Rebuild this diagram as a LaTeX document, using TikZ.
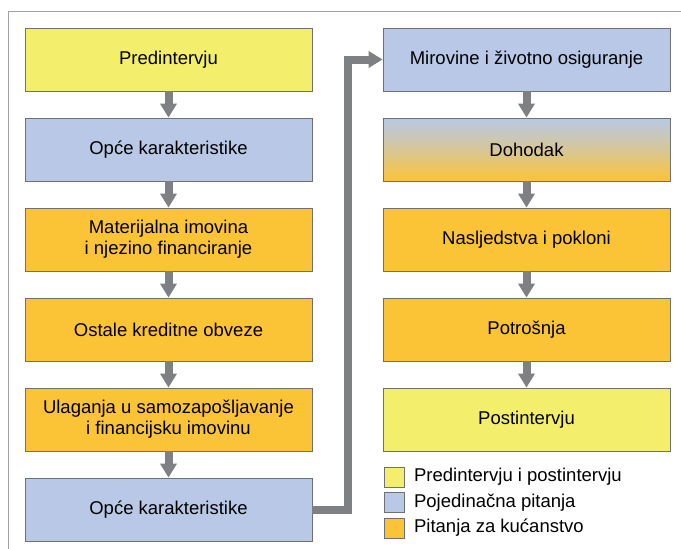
\documentclass[tikz,border=0pt]{standalone}
\usepackage{fontspec}
\setmainfont{Liberation Sans}
\usetikzlibrary{calc}
\usetikzlibrary{arrows.meta}

\definecolor{yel}{RGB}{243,239,108}
\definecolor{blu}{RGB}{184,200,230}
\definecolor{ora}{RGB}{251,196,55}
\definecolor{arrgray}{RGB}{127,128,131}
\definecolor{bordgray}{RGB}{110,112,115}
\definecolor{framegray}{RGB}{160,161,163}

\begin{document}
\begin{tikzpicture}[x=1pt,y=-1pt,node distance=90pt,
  flow/.style={-{Triangle[width=16pt,length=14pt]},line width=8pt,draw=arrgray},
  main node/.style={rectangle,draw=bordgray,line width=0.8pt,
  minimum width=287pt,minimum height=63pt,align=center,
  font=\fontsize{18.5}{21}\selectfont},
  leg node/.style={rectangle,draw=bordgray,line width=0.8pt,
  minimum size=20pt,inner sep=0pt},
  leg text/.style={anchor=west,inner sep=0pt,xshift=9pt,
  font=\fontsize{18.5}{21}\selectfont}]
  \useasboundingbox (0,0) rectangle (681,549);
  \draw[framegray,line width=1pt] (681,11) -- (8,11) -- (8,549);

  % lijevi stupac
  \node[main node,fill=yel] (P1) at (168.5,59.5) {Predintervju};
  \node[main node,fill=blu] (O1) [below of=P1] {Opće karakteristike};
  \node[main node,fill=ora] (M1) [below of=O1] {Materijalna imovina\\i njezino financiranje};
  \node[main node,fill=ora] (K1) [below of=M1] {Ostale kreditne obveze};
  \node[main node,fill=ora] (U1) [below of=K1] {Ulaganja u samozapošljavanje\\i financijsku imovinu};
  \node[main node,fill=blu] (O2) [below of=U1] {Opće karakteristike};

  % desni stupac
  \node[main node,fill=blu] (MZ) at (526.5,59.5) {Mirovine i životno osiguranje};
  \node[main node,top color=blu,bottom color=ora,middle color=blu!55!ora] (D) [below of=MZ] {Dohodak};
  \node[main node,fill=ora] (N) [below of=D] {Nasljedstva i pokloni};
  \node[main node,fill=ora] (Pt) [below of=N] {Potrošnja};
  \node[main node,fill=yel] (Po) [below of=Pt] {Postintervju};

  % legenda
  \node[leg node,fill=yel] (L1) at (394.5,477) {};
  \node[leg node,fill=blu] (L2) [below of=L1,node distance=25.5pt] {};
  \node[leg node,fill=ora] (L3) [below of=L2,node distance=25.5pt] {};
  \node[leg text] (T1) at (L1.east) {Predintervju i postintervju};
  \node[leg text] (T2) at (L2.east) {Pojedinačna pitanja};
  \node[leg text] (T3) at (L3.east) {Pitanja za kućanstvo};

  % strelice
  \draw[flow] (P1) -- (O1);
  \draw[flow] (O1) -- (M1);
  \draw[flow] (M1) -- (K1);
  \draw[flow] (K1) -- (U1);
  \draw[flow] (U1) -- (O2);
  \draw[flow] (MZ) -- (D);
  \draw[flow] (D) -- (N);
  \draw[flow] (N) -- (Pt);
  \draw[flow] (Pt) -- (Po);
  \coordinate (aux) at ($(O2.east)!0.5!(MZ.west)$);
  \draw[flow] (O2.east) -| (aux) |- (MZ.west);
\end{tikzpicture}
\end{document}
